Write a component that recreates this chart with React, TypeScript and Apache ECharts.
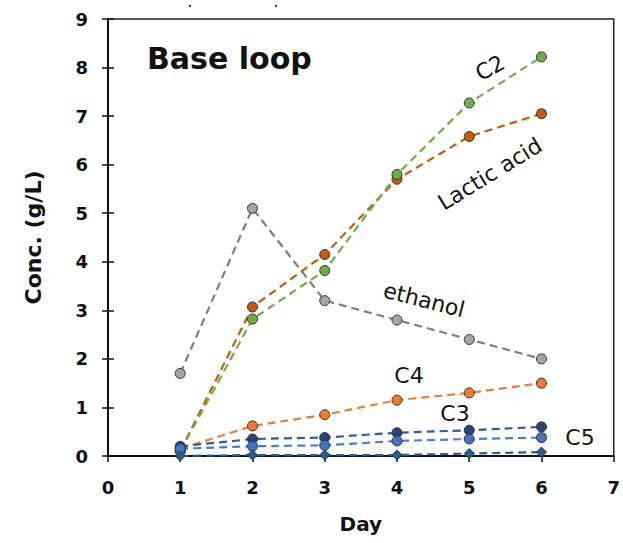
import React, { useEffect, useRef } from "react";
import * as echarts from "echarts";

const days = [1, 2, 3, 4, 5, 6];
const c2 = [0.1, 2.82, 3.82, 5.8, 7.27, 8.22];
const lactic = [0.1, 3.07, 4.15, 5.7, 6.58, 7.05];
const ethanol = [1.7, 5.1, 3.2, 2.8, 2.4, 2.0];
const c4 = [0.15, 0.62, 0.85, 1.15, 1.3, 1.5];
const c3 = [0.2, 0.35, 0.38, 0.48, 0.53, 0.6];
const c5 = [0.15, 0.2, 0.22, 0.31, 0.35, 0.38];
const other = [0.0, 0.02, 0.02, 0.02, 0.05, 0.08];
const xTicks = [0, 1, 2, 3, 4, 5, 6, 7];
const yTicks = [0, 1, 2, 3, 4, 5, 6, 7, 8, 9];

const FONT = "DejaVu Sans, Liberation Sans, Arial, sans-serif";

function pairs(vals: number[]) {
  return days.map((d, i) => [d, vals[i]]);
}

function mk(name: string, vals: number[], line: string, fill: string, symbol = "circle", size = 10) {
  return {
    name,
    type: "line",
    data: pairs(vals),
    symbol,
    symbolSize: size,
    lineStyle: { color: line, width: 2.2, type: [8, 5] },
    itemStyle: { color: fill, borderColor: "#333", borderWidth: 1 },
    z: 3,
  };
}

export default function App() {
  const ref = useRef<HTMLDivElement>(null);
  useEffect(() => {
    if (!ref.current) return;
    const chart = echarts.init(ref.current, null, { renderer: "svg" });
    chart.setOption({
      animation: false,
      textStyle: { fontFamily: FONT },
      grid: {
        left: 108,
        right: 3,
        top: 19,
        bottom: 87,
        show: true,
        borderColor: "#222",
        borderWidth: 1.5,
      },
      xAxis: {
        type: "value",
        min: xTicks[0],
        max: xTicks[xTicks.length - 1],
        interval: 1,
        name: "Day",
        nameLocation: "middle",
        nameGap: 58,
        nameTextStyle: { fontSize: 20, fontWeight: "bold", color: "#111", fontFamily: FONT },
        axisLine: { lineStyle: { color: "#111", width: 2 } },
        axisTick: { show: true, length: 6, lineStyle: { color: "#111", width: 1.5 } },
        axisLabel: { fontSize: 18, fontWeight: "bold", color: "#111", margin: 22, fontFamily: FONT },
        splitLine: { show: false },
      },
      yAxis: [
        {
          type: "value",
          min: yTicks[0],
          max: yTicks[yTicks.length - 1],
          interval: 1,
          name: "Conc. (g/L)",
          nameLocation: "middle",
          nameGap: 64,
          nameTextStyle: { fontSize: 22, fontWeight: "bold", color: "#111", fontFamily: FONT },
          axisLine: { lineStyle: { color: "#111", width: 2 } },
          axisTick: { show: true, length: 6, lineStyle: { color: "#111", width: 1.5 } },
          axisLabel: { fontSize: 18, fontWeight: "bold", color: "#111", margin: 20, fontFamily: FONT },
          splitLine: { show: false },
        },
        {
          type: "value",
          position: "left",
          min: yTicks[0],
          max: yTicks[yTicks.length - 1],
          interval: 1,
          axisLine: { show: false },
          axisTick: { show: true, inside: true, length: 6, lineStyle: { color: "#111", width: 1.5 } },
          axisLabel: { show: false },
          splitLine: { show: false },
        },
      ],
      series: [
        mk("ethanol", ethanol, "#7f7f7f", "#a5a5a5"),
        mk("Lactic acid", lactic, "#c55a11", "#c55a11"),
        mk("C2", c2, "#70ad47", "#70ad47"),
        mk("C4", c4, "#ed7d31", "#ed7d31"),
        mk("C3", c3, "#2e5f97", "#264478"),
        mk("C5", c5, "#4a7fd0", "#4472c4"),
        mk("other", other, "#255e91", "#255e91", "diamond", 10),
      ],
      graphic: [
        { type: "circle", shape: { cx: 190, cy: 6, r: 1.2 }, style: { fill: "#333" } },
        { type: "circle", shape: { cx: 276, cy: 6, r: 1.2 }, style: { fill: "#333" } },
        {
          type: "text", x: 147, y: 58,
          style: { text: "Base loop", font: `bold 30px ${FONT}`, fill: "#111", verticalAlign: "middle" },
        },
        {
          type: "text", x: 490, y: 68, rotation: 0.5,
          style: { text: "C2", font: `22px ${FONT}`, fill: "#111", align: "center", verticalAlign: "middle" },
        },
        {
          type: "text", x: 490, y: 174, rotation: 0.55,
          style: { text: "Lactic acid", font: `22px ${FONT}`, fill: "#111", align: "center", verticalAlign: "middle" },
        },
        {
          type: "text", x: 424, y: 300, rotation: -0.25,
          style: { text: "ethanol", font: `22px ${FONT}`, fill: "#111", align: "center", verticalAlign: "middle" },
        },
        {
          type: "text", x: 409, y: 375,
          style: { text: "C4", font: `22px ${FONT}`, fill: "#111", align: "center", verticalAlign: "middle" },
        },
        {
          type: "text", x: 455, y: 413,
          style: { text: "C3", font: `22px ${FONT}`, fill: "#111", align: "center", verticalAlign: "middle" },
        },
        {
          type: "text", x: 580, y: 437,
          style: { text: "C5", font: `22px ${FONT}`, fill: "#111", align: "center", verticalAlign: "middle" },
        },
      ],
    });
    return () => chart.dispose();
  }, []);
  return (
    <div
      ref={ref}
      style={{ position: "fixed", left: 0, top: 0, width: 623, height: 543, background: "#fff" }}
    />
  );
}
